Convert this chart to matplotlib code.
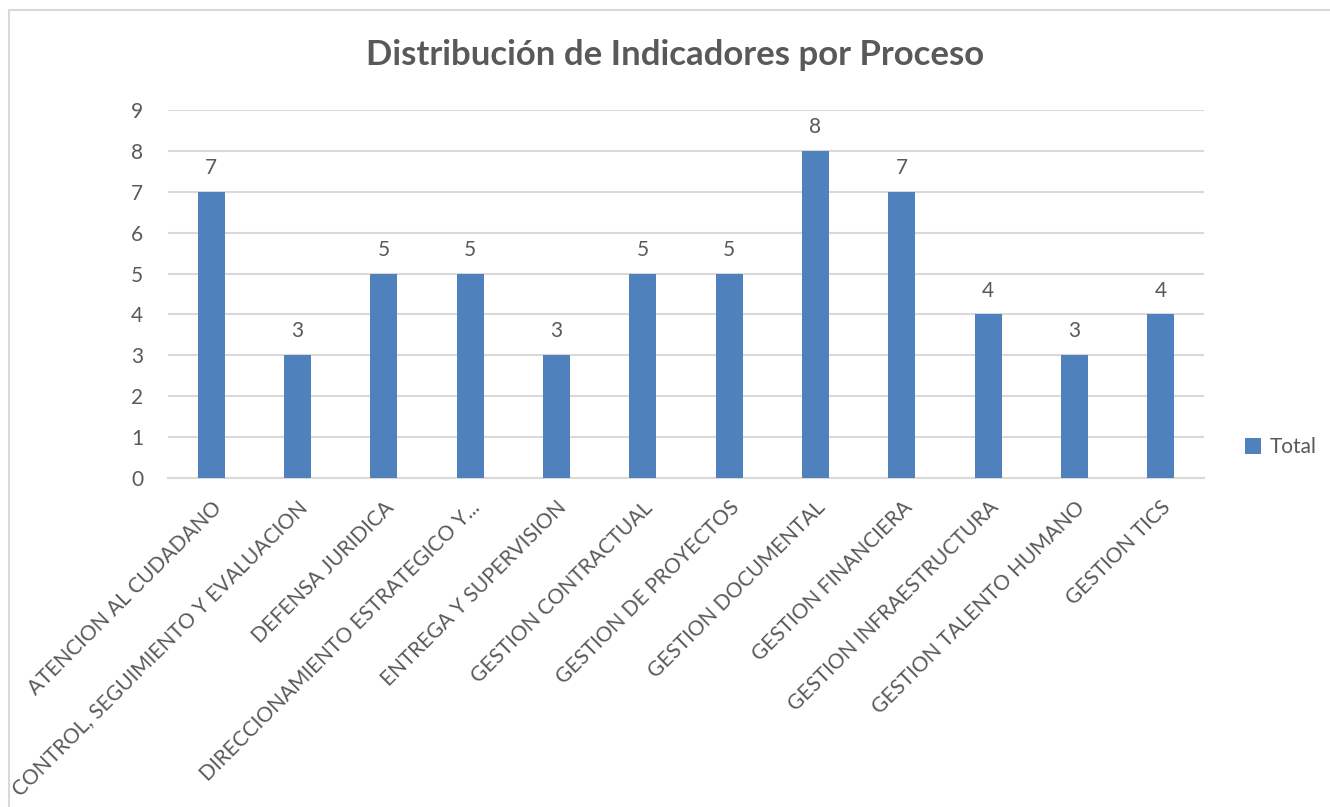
import matplotlib
matplotlib.use("Agg")
import matplotlib.pyplot as plt
from matplotlib.lines import Line2D

procesos = [
    "ATENCION AL CUDADANO",
    "CONTROL, SEGUIMIENTO Y EVALUACION",
    "DEFENSA JURIDICA",
    "DIRECCIONAMIENTO ESTRATEGICO Y...",
    "ENTREGA Y SUPERVISION",
    "GESTION CONTRACTUAL",
    "GESTION DE PROYECTOS",
    "GESTION DOCUMENTAL",
    "GESTION FINANCIERA",
    "GESTION INFRAESTRUCTURA",
    "GESTION TALENTO HUMANO",
    "GESTION TICS",
]
total = [7, 3, 5, 5, 3, 5, 5, 8, 7, 4, 3, 4]
y_ticks = list(range(0, 10))

plt.rcParams["font.family"] = ["Lato", "DejaVu Sans"]
text_color = "#595959"
bar_color = "#4F81BD"
grid_color = "#D9D9D9"

fig = plt.figure(figsize=(13.3, 8.07), dpi=100)
ax = fig.add_axes([168 / 1330, 1 - 478 / 807, (1204 - 168) / 1330, (478 - 110) / 807])

x = list(range(len(procesos)))
bars = ax.bar(x, total, width=0.31, color=bar_color, label="Total", zorder=3)

# data labels above bars
for xi, v in zip(x, total):
    ax.annotate(str(v), (xi, v), xytext=(0, 10), textcoords="offset points",
                ha="center", va="bottom", fontsize=15, color=text_color)

ax.set_xlim(-0.5, len(procesos) - 0.5)
ax.set_ylim(0, 9)
ax.set_yticks(y_ticks)
ax.yaxis.grid(True, color=grid_color, linewidth=1.5, zorder=0)
ax.set_axisbelow(True)
for s in ["top", "right", "left"]:
    ax.spines[s].set_visible(False)
ax.spines["bottom"].set_color(grid_color)
ax.spines["bottom"].set_linewidth(1.5)
ax.tick_params(axis="both", length=0, labelsize=15, labelcolor=text_color)
ax.tick_params(axis="y", pad=18)
ax.tick_params(axis="x", pad=14)
ax.set_xticks(x)
ax.set_xticklabels(procesos, rotation=45, ha="right", va="top", rotation_mode="anchor")

fig.text(675 / 1330, 1 - 55 / 807, "Distribución de Indicadores por Proceso",
         ha="center", va="center", fontsize=25, fontweight="bold", color=text_color)

leg = fig.legend(handles=[bars], labels=["Total"], loc="center left",
                 bbox_to_anchor=(1226 / 1330, 1 - 447 / 807), frameon=False,
                 fontsize=15, handlelength=0.8, handleheight=0.8, handletextpad=0.4)
for t in leg.get_texts():
    t.set_color(text_color)

# chart border (top and left visible)
fig.add_artist(Line2D([9 / 1330, 9 / 1330], [0, 1 - 10 / 807], transform=fig.transFigure,
                      color=grid_color, linewidth=1.5))
fig.add_artist(Line2D([9 / 1330, 1], [1 - 10 / 807, 1 - 10 / 807], transform=fig.transFigure,
                      color=grid_color, linewidth=1.5))

fig.savefig("out.png", dpi=100)
